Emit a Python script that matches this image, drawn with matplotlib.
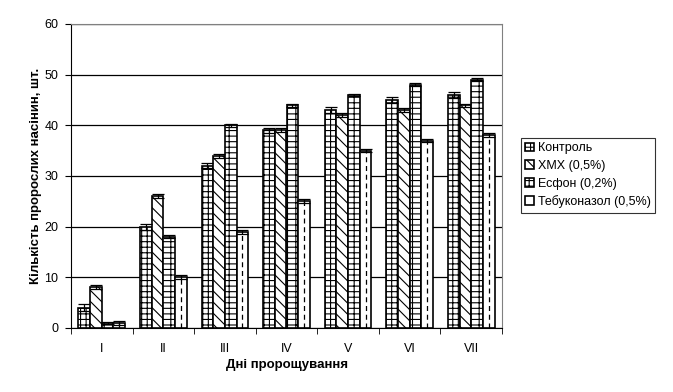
import numpy as np
import matplotlib
matplotlib.use('Agg')
import matplotlib.pyplot as plt

plt.rcParams['font.family'] = ['Liberation Sans', 'DejaVu Sans']
plt.rcParams['hatch.linewidth'] = 0.8

days = ['I', 'II', 'III', 'IV', 'V', 'VI', 'VII']
series = ['Контроль', 'ХМХ (0,5%)', 'Есфон (0,2%)', 'Тебуконазол (0,5%)']
kontrol = [4, 20, 32, 39, 43, 45, 46]
khmkh = [8, 26, 34, 39, 42, 43, 44]
esfon = [1, 18, 40, 44, 46, 48, 49]
tebu = [1, 10, 19, 25, 35, 37, 38]
err_kontrol = [0.7, 0.6, 0.5, 0.5, 0.6, 0.6, 0.6]
err_khmkh = [0.4, 0.4, 0.4, 0.4, 0.4, 0.4, 0.3]
err_esfon = [0.2, 0.3, 0.3, 0.3, 0.2, 0.3, 0.3]
err_tebu = [0.4, 0.4, 0.4, 0.4, 0.3, 0.3, 0.4]

values = [kontrol, khmkh, esfon, tebu]
errors = [err_kontrol, err_khmkh, err_esfon, err_tebu]
hatches = ['+++', '\\\\\\', '---||', None]

fig = plt.figure(figsize=(6.73, 3.92), dpi=100)
ax = fig.add_axes([71/673, 64/392, 431/673, 304/392])

x = np.arange(len(days))
w = 0.19
for i in range(4):
    pos = x + (i - 1.5) * w
    ax.bar(pos, values[i], w, color='white', edgecolor='black', linewidth=1.2,
           hatch=hatches[i], label=series[i], zorder=3)
    if i == 3:
        # dashed centre line for the last series
        ax.vlines(pos, 0, values[i], colors='black', linestyles=(0, (4, 3)),
                  linewidth=0.9, zorder=3.5)
    ax.errorbar(pos, values[i], yerr=errors[i], fmt='none', ecolor='black',
                elinewidth=0.9, capsize=4, capthick=0.9, zorder=4)

ax.set_xlim(-0.5, len(days) - 0.5)
ax.set_ylim(0, 60)
ax.set_yticks(np.arange(0, 61, 10))
ax.yaxis.grid(True, color='black', linewidth=0.9, zorder=0)
ax.set_xticks(x)
ax.set_xticklabels(days)
ax.set_xticks(np.arange(-0.5, len(days), 1), minor=True)
ax.tick_params(axis='x', which='major', length=0, pad=11, labelsize=9)
ax.tick_params(axis='x', which='minor', length=4, direction='out')
ax.tick_params(axis='y', length=4, direction='out', labelsize=9, pad=5)

ax.spines['top'].set_color('#808080')
ax.spines['right'].set_color('#808080')
ax.spines['left'].set_color('black')
ax.spines['bottom'].set_color('black')

ax.set_xlabel('Дні пророщування', fontsize=9.5, fontweight='bold', labelpad=3)
ax.set_ylabel('Кількість пророслих насінин, шт.', fontsize=9.5, fontweight='bold', labelpad=2)

leg = fig.legend(loc='upper left', bbox_to_anchor=(521/673, 1 - 138/392), fontsize=9,
                 frameon=True, fancybox=False, edgecolor='black', handlelength=0.7,
                 handleheight=0.7, handletextpad=0.3, borderpad=0.35, labelspacing=0.45,
                 borderaxespad=0)
leg.get_frame().set_linewidth(0.8)

fig.savefig('out.png', dpi=100)
